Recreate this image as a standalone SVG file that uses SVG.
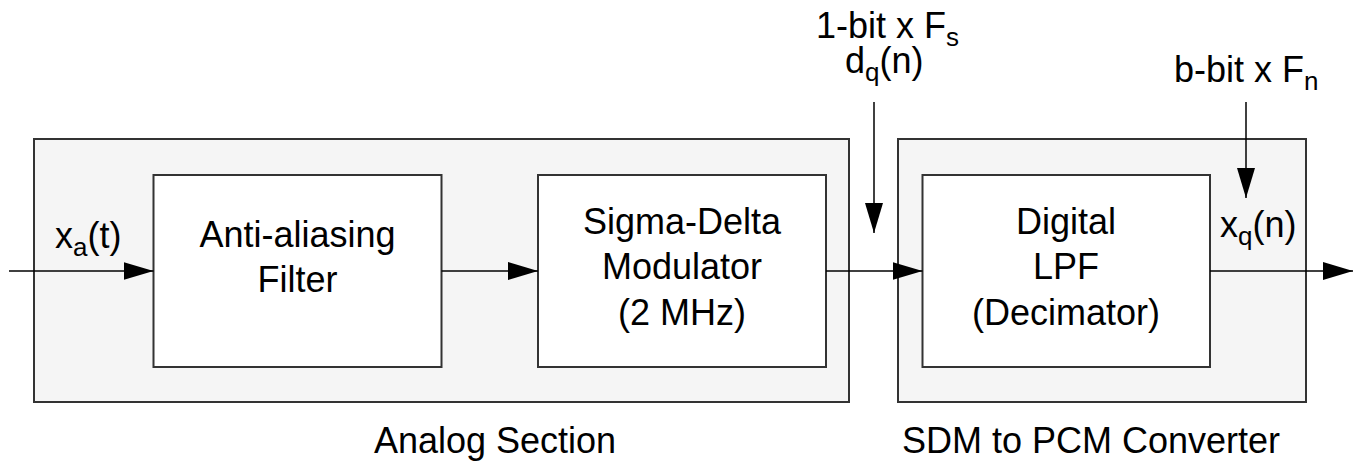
<svg xmlns="http://www.w3.org/2000/svg" width="1356" height="464" viewBox="0 0 1356 464">
<style>
text{font-family:"Liberation Sans",Arial,sans-serif;font-size:36px;fill:#000}
.mid{text-anchor:middle}
.sub{font-size:26px}
.outer{fill:#f5f5f5;stroke:#333;stroke-width:2}
.inner{fill:#fff;stroke:#333;stroke-width:2}
.wire{stroke:#000;stroke-width:1.5;fill:none}
</style>
<defs>
<marker id="ah" markerWidth="30" markerHeight="18" refX="30" refY="9" orient="auto" markerUnits="userSpaceOnUse">
<path d="M0,0 L30,9 L0,18 Z" fill="#000"/>
</marker>
</defs>
<rect width="1356" height="464" fill="#fff"/>
<g id="analog-section">
<rect class="outer" x="34" y="139" width="815" height="263"/>
<text class="mid" x="495" y="453">Analog Section</text>
</g>
<g id="sdm-to-pcm">
<rect class="outer" x="898" y="139" width="408" height="263"/>
<text x="902" y="453">SDM to PCM Converter</text>
</g>
<g id="anti-aliasing">
<rect class="inner" x="153.5" y="175" width="288" height="192"/>
<text class="mid" x="297.5" y="246.5">Anti-aliasing</text>
<text class="mid" x="297.5" y="291.5">Filter</text>
</g>
<g id="sigma-delta">
<rect class="inner" x="538" y="175" width="288" height="192"/>
<text class="mid" x="682" y="233.5">Sigma-Delta</text>
<text class="mid" x="682" y="279">Modulator</text>
<text class="mid" x="682" y="324.5">(2 MHz)</text>
</g>
<g id="digital-lpf">
<rect class="inner" x="922.5" y="175" width="287.5" height="192"/>
<text class="mid" x="1066" y="233.5">Digital</text>
<text class="mid" x="1066" y="279">LPF</text>
<text class="mid" x="1066" y="324.5">(Decimator)</text>
</g>
<g id="connectors">
<line class="wire" x1="9" y1="271" x2="153.5" y2="271" marker-end="url(#ah)"/>
<line class="wire" x1="441.5" y1="271" x2="538" y2="271" marker-end="url(#ah)"/>
<line class="wire" x1="826" y1="271" x2="922.5" y2="271" marker-end="url(#ah)"/>
<line class="wire" x1="1210" y1="271" x2="1353" y2="271" marker-end="url(#ah)"/>
<line class="wire" x1="874" y1="102" x2="874" y2="233" marker-end="url(#ah)"/>
<line class="wire" x1="1246" y1="102" x2="1246" y2="198" marker-end="url(#ah)"/>
</g>
<g id="labels">
<text x="55" y="248">x<tspan class="sub" dy="8">a</tspan><tspan dy="-8">(t)</tspan></text>
<text x="1220" y="237">x<tspan class="sub" dy="8">q</tspan><tspan dy="-8">(n)</tspan></text>
<text x="816" y="38">1-bit x F<tspan class="sub" dy="8">s</tspan></text>
<text x="845" y="73">d<tspan class="sub" dy="8">q</tspan><tspan dy="-8">(n)</tspan></text>
<text x="1174" y="82">b-bit x F<tspan class="sub" dy="8">n</tspan></text>
</g>
</svg>
